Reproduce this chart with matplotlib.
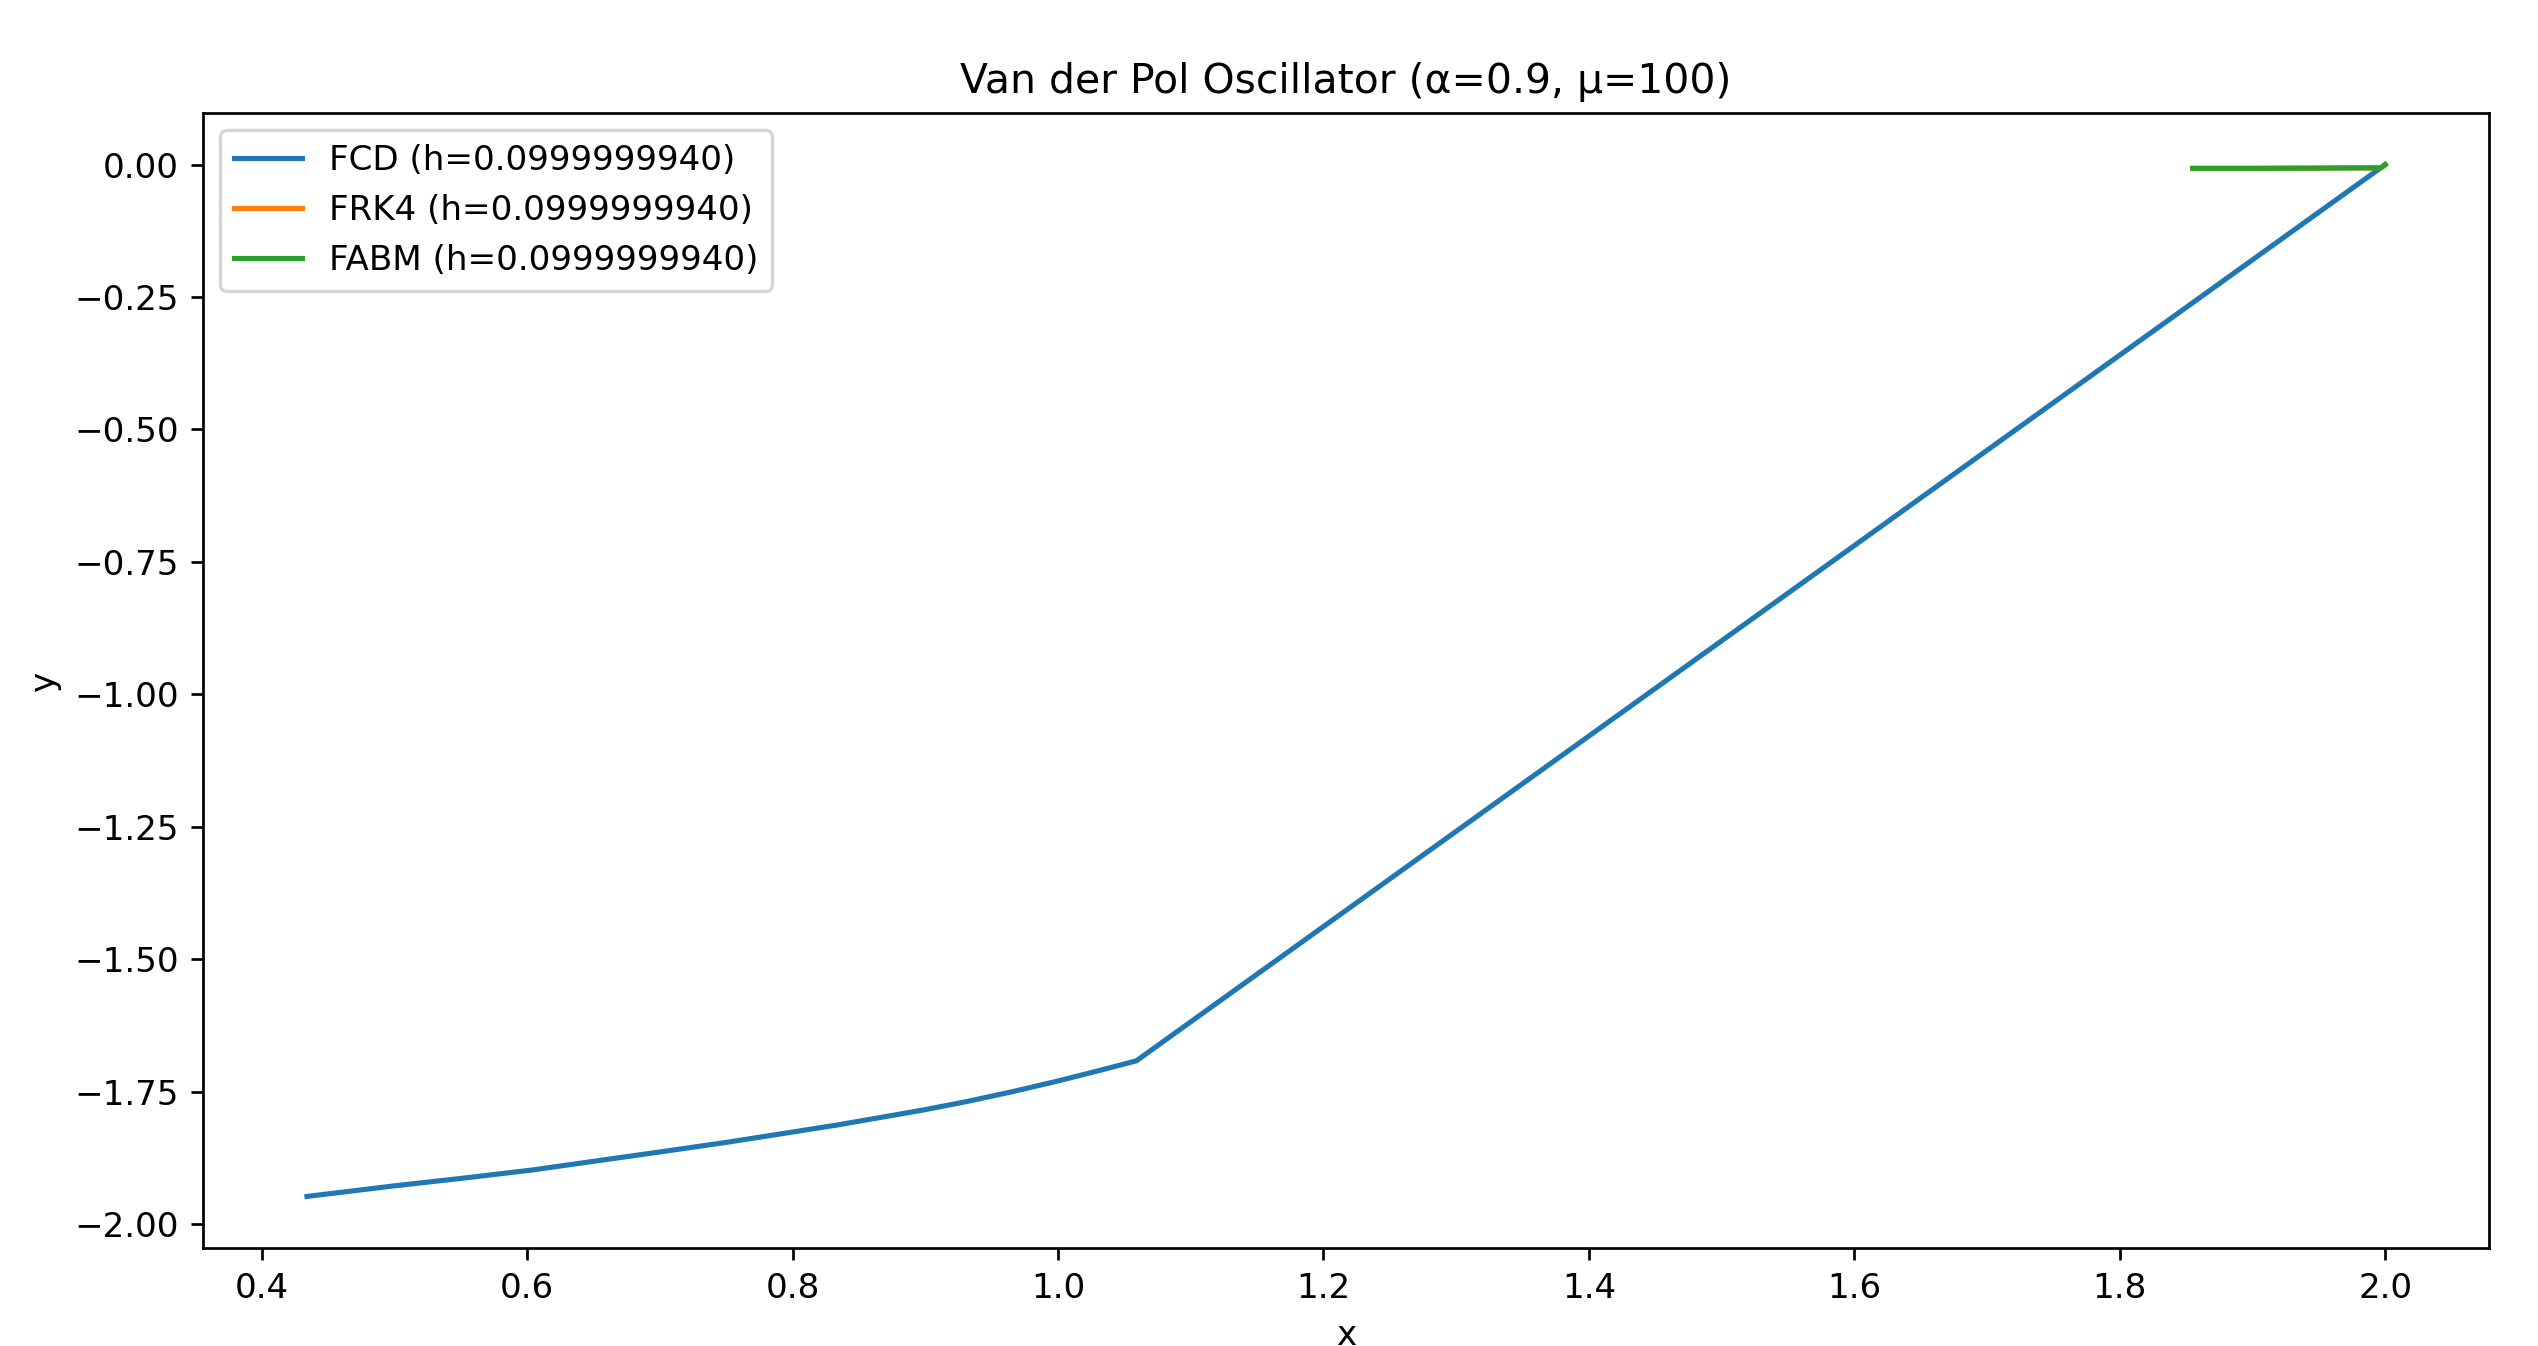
import matplotlib
matplotlib.use("Agg")
import matplotlib.pyplot as plt

# FCD solution (phase portrait: x vs y)
fcd_x = [2.0, 1.059, 1.03, 1.0, 0.966, 0.931, 0.898, 0.866, 0.834, 0.801,
         0.75, 0.70, 0.652, 0.604, 0.55, 0.50, 0.467, 0.434]
fcd_y = [0.0, -1.692, -1.711, -1.730, -1.750, -1.769, -1.785, -1.799, -1.813, -1.826,
         -1.846, -1.864, -1.881, -1.898, -1.914, -1.928, -1.938, -1.948]

# FRK4 and FABM solutions (nearly identical, overlapping)
frk4_x = [2.0, 1.997, 1.95, 1.90, 1.855]
frk4_y = [0.0, -0.006, -0.0065, -0.007, -0.007]
fabm_x = [2.0, 1.997, 1.95, 1.90, 1.855]
fabm_y = [0.0, -0.006, -0.0065, -0.007, -0.007]

labels = ["FCD (h=0.0999999940)", "FRK4 (h=0.0999999940)", "FABM (h=0.0999999940)"]

DPI = 245.6
fig = plt.figure(figsize=(2538 / DPI, 1346 / DPI), dpi=DPI)
ax = fig.add_axes([0.0800, 0.0728, 0.9007, 0.8432])

ax.plot(fcd_x, fcd_y, label=labels[0])
ax.plot(frk4_x, frk4_y, label=labels[1])
ax.plot(fabm_x, fabm_y, label=labels[2])

ax.set_title("Van der Pol Oscillator (α=0.9, μ=100)")
ax.set_xlabel("x")
ax.set_ylabel("y")
ax.legend(loc="upper left")

fig.savefig("out.png", dpi=DPI)
